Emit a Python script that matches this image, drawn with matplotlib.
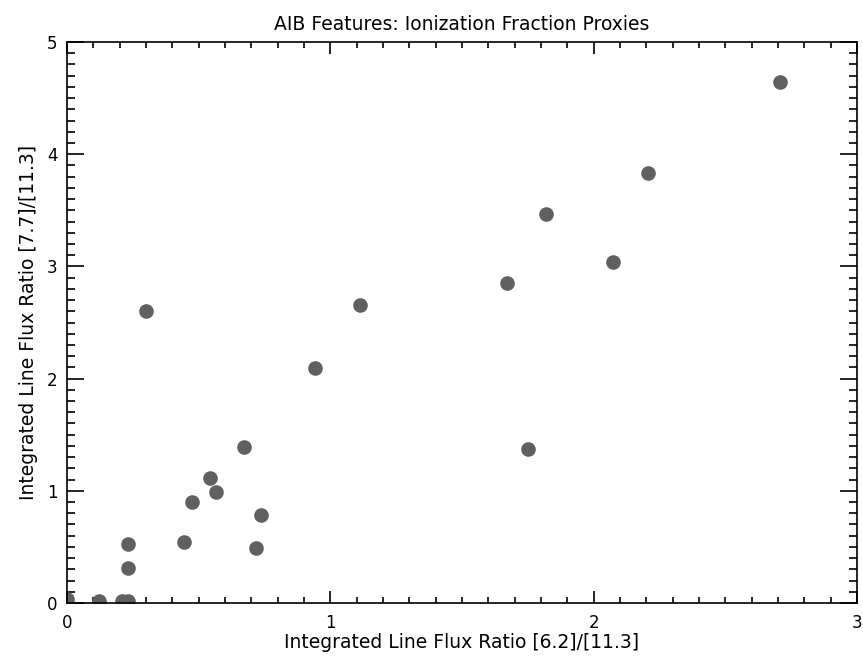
import matplotlib
matplotlib.use("Agg")
import matplotlib.pyplot as plt
from matplotlib.ticker import MultipleLocator

ratio_62_113 = [0.00, 0.12, 0.21, 0.23, 0.23, 0.23, 0.30, 0.445, 0.474, 0.544, 0.567,
                0.674, 0.717, 0.738, 0.943, 1.114, 1.672, 1.75, 1.82, 2.073, 2.208, 2.707]
ratio_77_113 = [0.04, 0.02, 0.02, 0.02, 0.31, 0.53, 2.60, 0.546, 0.90, 1.11, 0.99,
                1.393, 0.493, 0.784, 2.097, 2.656, 2.849, 1.37, 3.47, 3.042, 3.83, 4.64]

title = "AIB Features: Ionization Fraction Proxies"
xlabel = "Integrated Line Flux Ratio [6.2]/[11.3]"
ylabel = "Integrated Line Flux Ratio [7.7]/[11.3]"

fig = plt.figure(figsize=(8.63, 6.67), dpi=100)
ax = fig.add_axes([67/863, 64/667, 790/863, 561/667])

ax.plot(ratio_62_113, ratio_77_113, 'o', color='#606060', ms=9.5, mec='#606060', clip_on=True)

ax.set_xlim(0, 3)
ax.set_ylim(0, 5)
ax.xaxis.set_major_locator(MultipleLocator(1))
ax.xaxis.set_minor_locator(MultipleLocator(0.1))
ax.yaxis.set_major_locator(MultipleLocator(1))
ax.yaxis.set_minor_locator(MultipleLocator(0.1))
ax.tick_params(axis='both', which='both', direction='in', top=True, right=True,
               color='black', width=1.2, labelsize=12)
ax.tick_params(axis='x', which='major', length=8.5, pad=8)
ax.tick_params(axis='x', which='minor', length=4.2)
ax.tick_params(axis='y', which='major', length=12, pad=7)
ax.tick_params(axis='y', which='minor', length=6)
for s in ax.spines.values():
    s.set_linewidth(1.2)

ax.set_title(title, fontsize=13.5, pad=9)
ax.set_xlabel(xlabel, fontsize=13.5, labelpad=1)
ax.set_ylabel(ylabel, fontsize=13.5, labelpad=6)

fig.savefig("out.png", dpi=100)
